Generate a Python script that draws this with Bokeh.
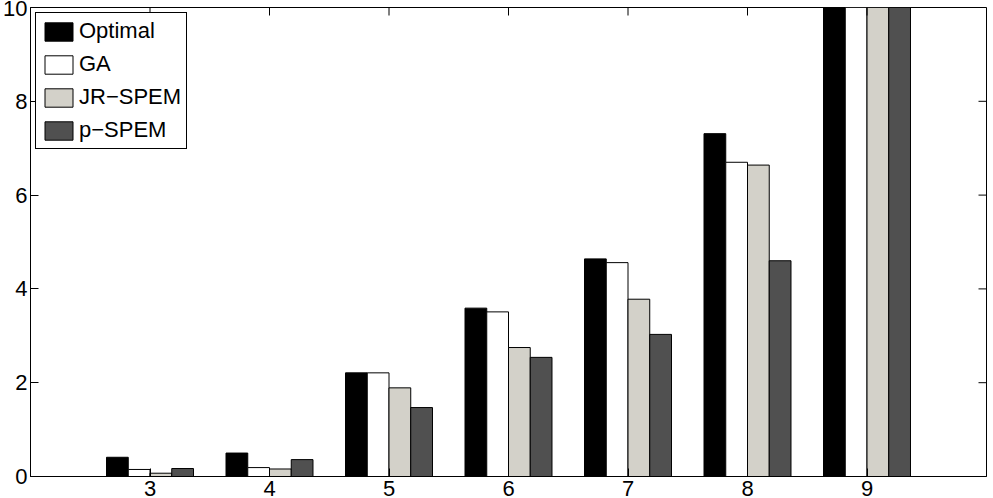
import math
from bokeh.plotting import figure
from bokeh.models import FixedTicker, Range1d, Legend, LegendItem, ColumnDataSource
from bokeh.transform import dodge
from bokeh.embed import file_html
from bokeh.resources import INLINE

# ---- data ----
categories = [3, 4, 5, 6, 7, 8, 9]
optimal = [0.41, 0.50, 2.21, 3.59, 4.64, 7.31, 11.0]
ga = [0.15, 0.19, 2.21, 3.51, 4.56, 6.70, 10.8]
jr_spem = [0.07, 0.16, 1.89, 2.75, 3.78, 6.64, 10.7]
p_spem = [0.17, 0.36, 1.47, 2.54, 3.03, 4.60, 10.5]
series_names = ["Optimal", "GA", "JR\u2212SPEM", "p\u2212SPEM"]
series_keys = ["optimal", "ga", "jr", "p"]
series_colors = ["#000000", "#ffffff", "#d3d1c9", "#505050"]
y_ticks = [0, 2, 4, 6, 8, 10]
x_lo, x_hi = 2, 10
y_lo, y_hi = 0, 10

src = ColumnDataSource(dict(cat=categories, optimal=optimal, ga=ga, jr=jr_spem, p=p_spem))

FONT = "Liberation Sans"

p = figure(width=993, height=498, output_backend="svg", toolbar_location=None,
           x_range=Range1d(x_lo, x_hi), y_range=Range1d(y_lo, y_hi),
           min_border_top=7, min_border_right=7, min_border_left=2, min_border_bottom=2,
           background_fill_color="white", border_fill_color="white")
p.xgrid.visible = False
p.ygrid.visible = False
p.outline_line_color = "black"
p.outline_line_width = 1
p.outline_line_alpha = 1

for ax, ticks, so in ((p.xaxis[0], categories, 4), (p.yaxis[0], y_ticks, 3)):
    ax.ticker = FixedTicker(ticks=ticks)
    ax.major_tick_in = 8
    ax.major_tick_out = 0
    ax.minor_tick_in = 0
    ax.minor_tick_out = 0
    ax.axis_line_color = "black"
    ax.major_tick_line_color = "black"
    ax.major_label_text_font = FONT
    ax.major_label_text_font_size = "22px"
    ax.major_label_text_color = "black"
    ax.major_label_standoff = so

offsets = [-0.273, -0.091, 0.091, 0.273]
bar_w = 0.182
items = []
for key, name, col, off in zip(series_keys, series_names, series_colors, offsets):
    r = p.vbar(x=dodge("cat", off, range=p.x_range), top=key, bottom=0, width=bar_w,
               source=src, fill_color=col, line_color="black", line_width=1)
    items.append(LegendItem(label=name, renderers=[r]))

# inward ticks on the right and top edges of the box
p.ray(x=[x_hi] * len(y_ticks), y=y_ticks, length=8, length_units="screen",
      angle=math.pi, line_color="black", line_width=1)
p.ray(x=categories, y=[y_hi] * len(categories), length=8, length_units="screen",
      angle=-math.pi / 2, line_color="black", line_width=1)

legend = Legend(items=items, location="top_left", margin=5, padding=5, spacing=7,
                glyph_width=35, glyph_height=23, label_height=23, label_standoff=3,
                label_text_font=FONT, label_text_font_size="22px",
                label_text_color="black",
                border_line_color="black", border_line_width=1, border_line_alpha=1,
                background_fill_color="white", background_fill_alpha=1)
p.add_layout(legend)

open("out.html", "w").write(file_html(p, INLINE))
